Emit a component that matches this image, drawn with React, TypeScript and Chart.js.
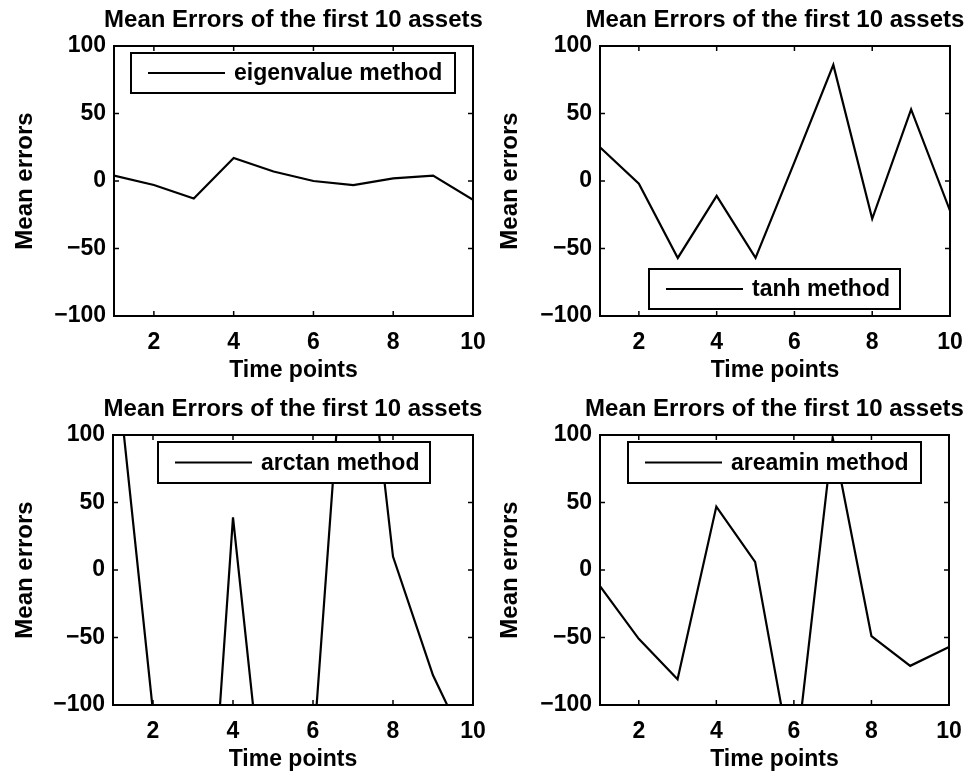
import React, { useEffect, useRef } from "react";
import { Chart, registerables } from "chart.js";

Chart.register(...registerables);

// ---- data ----
const timePoints = [1, 2, 3, 4, 5, 6, 7, 8, 9, 10];
const eigenvalueErrors = [4, -3, -13, 17, 7, 0, -3, 2, 4, -14];
const tanhErrors = [25, -2, -57, -11, -57, 14, 86, -28, 53, -22];
const arctanErrors = [177, -105, -389, 39, -239, -137, 270, 10, -78, -140];
const areaminErrors = [-12, -51, -81, 47, 6, -152, 98, -49, -71, -57];
const xTickValues = [2, 4, 6, 8, 10];
const yTickValues = [-100, -50, 0, 50, 100];
const chartTitle = "Mean Errors of the first 10 assets";
const xAxisTitle = "Time points";
const yAxisTitle = "Mean errors";
const methodNames = ["eigenvalue method", "tanh method", "arctan method", "areamin method"];

const FONT = "'Liberation Sans', Arial, Helvetica, sans-serif";

type LegendCfg = { dx: number; dy: number; w: number; h: number; fromBottom?: boolean };
type PanelCfg = {
  label: string;
  values: number[];
  left: number;
  top: number;
  yWidth: number;
  padRight: number;
  legend: LegendCfg;
};

const panels: PanelCfg[] = [
  { label: methodNames[0], values: eigenvalueErrors, left: 0, top: 0, yWidth: 114, padRight: 12, legend: { dx: 17, dy: 7, w: 324, h: 40 } },
  { label: methodNames[1], values: tanhErrors, left: 485, top: 0, yWidth: 115, padRight: 20, legend: { dx: 49, dy: 7, w: 251, h: 40, fromBottom: true } },
  { label: methodNames[2], values: arctanErrors, left: 0, top: 389, yWidth: 113, padRight: 12, legend: { dx: 45, dy: 7, w: 272, h: 41 } },
  { label: methodNames[3], values: areaminErrors, left: 485, top: 389, yWidth: 115, padRight: 21, legend: { dx: 28, dy: 7, w: 293, h: 41 } },
];

function Panel({ cfg }: { cfg: PanelCfg }) {
  const ref = useRef<HTMLCanvasElement>(null);

  useEffect(() => {
    const framePlugin = {
      id: "matlabFrame",
      afterDatasetsDraw(chart: any) {
        const { ctx, chartArea: a, scales } = chart;
        ctx.save();
        ctx.strokeStyle = "#000";
        ctx.lineCap = "butt";
        const seg = (x1: number, y1: number, x2: number, y2: number) => {
          ctx.beginPath();
          ctx.moveTo(x1, y1);
          ctx.lineTo(x2, y2);
          ctx.stroke();
        };
        // inward tick marks on all four sides
        ctx.lineWidth = 1.5;
        const tl = 5;
        for (const v of xTickValues) {
          const px = scales.x.getPixelForValue(v);
          seg(px, a.bottom, px, a.bottom - tl);
          seg(px, a.top, px, a.top + tl);
        }
        for (const v of yTickValues) {
          const py = scales.y.getPixelForValue(v);
          seg(a.left, py, a.left + tl, py);
          seg(a.right, py, a.right - tl, py);
        }
        // axes box
        ctx.lineWidth = 2;
        ctx.strokeRect(a.left, a.top, a.right - a.left, a.bottom - a.top);

        // legend box
        const L = cfg.legend;
        const bx = a.left + L.dx;
        const by = L.fromBottom ? a.bottom - L.dy - L.h : a.top + L.dy;
        ctx.fillStyle = "#fff";
        ctx.fillRect(bx, by, L.w, L.h);
        ctx.lineWidth = 2;
        ctx.strokeRect(bx, by, L.w, L.h);
        const cy = by + L.h / 2;
        ctx.lineWidth = 2;
        seg(bx + 17, cy, bx + 94, cy);
        ctx.fillStyle = "#000";
        ctx.font = `bold 23px ${FONT}`;
        ctx.textAlign = "left";
        ctx.textBaseline = "middle";
        ctx.fillText(cfg.label, bx + 103, cy + 1);

        // subplot title
        ctx.font = `bold 24px ${FONT}`;
        ctx.textAlign = "center";
        ctx.textBaseline = "alphabetic";
        ctx.fillText(chartTitle, (a.left + a.right) / 2, 27);
        ctx.restore();
      },
    };

    const chart = new Chart(ref.current as HTMLCanvasElement, {
      type: "line",
      data: {
        datasets: [
          {
            label: cfg.label,
            data: timePoints.map((t, i) => ({ x: t, y: cfg.values[i] })),
            borderColor: "#000",
            backgroundColor: "#000",
            borderWidth: 2.2,
            pointRadius: 0,
            tension: 0,
            fill: false,
          },
        ],
      },
      options: {
        responsive: false,
        animation: false,
        devicePixelRatio: 1,
        layout: { padding: { top: 46, right: cfg.padRight, left: 0, bottom: 0 } },
        plugins: {
          legend: { display: false },
          tooltip: { enabled: false },
          title: { display: false },
        },
        scales: {
          x: {
            type: "linear",
            min: 1,
            max: 10,
            grid: { display: false, drawTicks: false },
            border: { display: false },
            afterBuildTicks: (s: any) => {
              s.ticks = xTickValues.map((v) => ({ value: v }));
            },
            afterFit: (s: any) => {
              s.height = 70;
              s.paddingLeft = 0;
              s.paddingRight = 0;
            },
            ticks: {
              padding: 13,
              color: "#000",
              maxRotation: 0,
              autoSkip: false,
              font: { family: FONT, size: 23, weight: "bold" },
            },
            title: {
              display: true,
              text: xAxisTitle,
              color: "#000",
              font: { family: FONT, size: 23, weight: "bold" },
              padding: { top: 0, bottom: 2 },
            },
          },
          y: {
            type: "linear",
            min: -100,
            max: 100,
            grid: { display: false, drawTicks: false },
            border: { display: false },
            afterBuildTicks: (s: any) => {
              s.ticks = yTickValues.map((v) => ({ value: v }));
            },
            afterFit: (s: any) => {
              s.width = cfg.yWidth;
              s.paddingTop = 0;
              s.paddingBottom = 0;
            },
            ticks: {
              padding: 8,
              color: "#000",
              autoSkip: false,
              font: { family: FONT, size: 23, weight: "bold" },
              callback: (v: any) => String(v).replace("-", "\u2212"),
            },
            title: {
              display: true,
              text: yAxisTitle,
              color: "#000",
              font: { family: FONT, size: 24, weight: "bold" },
              padding: { top: 11, bottom: 0 },
            },
          },
        },
      } as any,
      plugins: [framePlugin],
    });
    return () => chart.destroy();
  }, [cfg]);

  return (
    <canvas
      ref={ref}
      width={485}
      height={386}
      style={{ position: "absolute", left: cfg.left, top: cfg.top, width: 485, height: 386 }}
    />
  );
}

export default function App() {
  return (
    <div
      style={{
        position: "absolute",
        left: 0,
        top: 0,
        width: 970,
        height: 773,
        overflow: "hidden",
        background: "#fff",
      }}
    >
      {panels.map((p, i) => (
        <Panel key={i} cfg={p} />
      ))}
    </div>
  );
}
